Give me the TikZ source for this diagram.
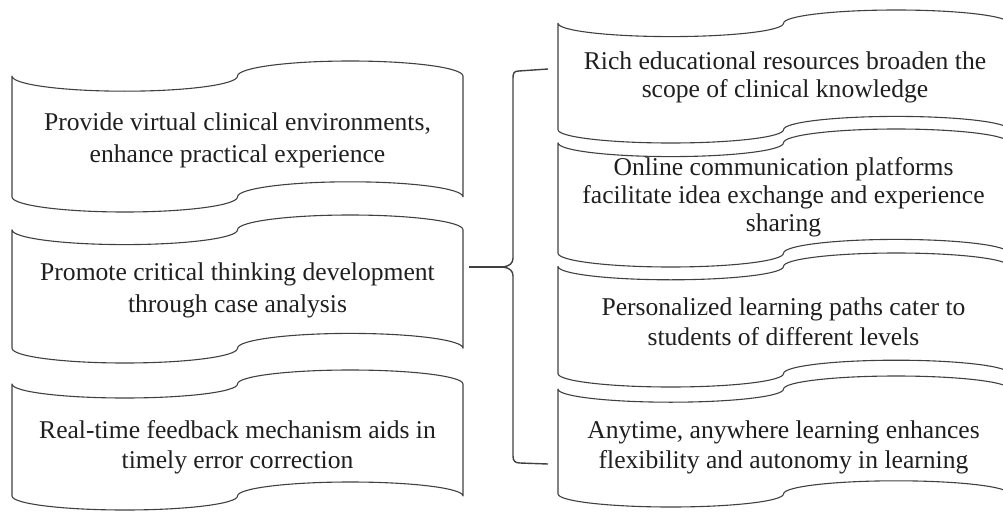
\documentclass[tikz,border=0pt]{standalone}
\usepackage{fontspec}
\setmainfont{Liberation Serif}
\newcommand{\tapebox}[4]{%
 \pgfmathsetmacro\tpX{#1}\pgfmathsetmacro\tpY{#2}\pgfmathsetmacro\tpW{#3}\pgfmathsetmacro\tpH{#4}%
 \pgfmathsetmacro\tpA{\tpH/10}\pgfmathsetmacro\tpQ{\tpW/4}%
 \pgfmathsetmacro\tpKA{0.5523*\tpA}\pgfmathsetmacro\tpKQ{0.5523*\tpQ}%
 \pgfmathsetmacro\xa{\tpX}\pgfmathsetmacro\xb{\tpX+\tpQ}\pgfmathsetmacro\xc{\tpX+2*\tpQ}%
 \pgfmathsetmacro\xd{\tpX+3*\tpQ}\pgfmathsetmacro\xe{\tpX+\tpW}%
 \pgfmathsetmacro\ya{\tpY}\pgfmathsetmacro\yb{\tpY+\tpA}\pgfmathsetmacro\yc{\tpY+2*\tpA}%
 \pgfmathsetmacro\yd{\tpY+\tpH-2*\tpA}\pgfmathsetmacro\ye{\tpY+\tpH-\tpA}\pgfmathsetmacro\yf{\tpY+\tpH}%
 \draw[tapeline] (\xa,\yb) .. controls (\xa,{\yb+\tpKA}) and ({\xb-\tpKQ},\yc) .. (\xb,\yc)
   .. controls ({\xb+\tpKQ},\yc) and (\xc,{\yb+\tpKA}) .. (\xc,\yb)
   .. controls (\xc,{\yb-\tpKA}) and ({\xd-\tpKQ},\ya) .. (\xd,\ya)
   .. controls ({\xd+\tpKQ},\ya) and (\xe,{\yb-\tpKA}) .. (\xe,\yb)
   -- (\xe,\ye)
   .. controls (\xe,{\ye-\tpKA}) and ({\xd+\tpKQ},\yd) .. (\xd,\yd)
   .. controls ({\xd-\tpKQ},\yd) and (\xc,{\ye-\tpKA}) .. (\xc,\ye)
   .. controls (\xc,{\ye+\tpKA}) and ({\xb+\tpKQ},\yf) .. (\xb,\yf)
   .. controls ({\xb-\tpKQ},\yf) and (\xa,{\ye+\tpKA}) .. (\xa,\ye)
   -- cycle;%
}
\begin{document}
\begin{tikzpicture}[x=1pt,y=-1pt,
  tapeline/.style={line width=1.1pt, draw=black!75, line join=round},
  txt/.style={align=center, inner sep=0pt, text=black!88, font=\fontsize{25.6}{32}\selectfont},
  rtxt/.style={txt, font=\fontsize{25.6}{28}\selectfont},
  mtxt/.style={txt, font=\fontsize{25.6}{30}\selectfont},
  bracestyle/.style={line width=1.4pt, draw=black!75, line join=round}]
\useasboundingbox (0,0) rectangle (1003,511);
\clip (0,0) rectangle (1003,511);
% left column
\tapebox{12}{61}{451}{151}
\tapebox{12}{215}{451}{148}
\tapebox{12}{370}{451}{140}
% right column
\tapebox{558}{10}{451}{133}
\tapebox{558}{129}{451}{138}
\tapebox{558}{253}{451}{134}
\tapebox{558}{376}{451}{131}
% texts
\node[txt] (L1) at (237.5,140.5) {Provide virtual clinical environments,\\enhance practical experience};
\node[txt] (L2) at (237.5,290.5) {Promote critical thinking development\\through case analysis};
\node[mtxt] (L3) at (237.5,447) {Real-time feedback mechanism aids in\\timely error correction};
\node[rtxt] (R1) at (785,77.5) {Rich educational resources broaden the\\scope of clinical knowledge};
\node[rtxt] (R2) at (783.5,197.5) {Online communication platforms\\facilitate idea exchange and experience\\sharing};
\node[mtxt] (R3) at (783.5,322) {Personalized learning paths cater to\\students of different levels};
\node[mtxt] (R4) at (783.5,447) {Anytime, anywhere learning enhances\\flexibility and autonomy in learning};
% brace and connector
\coordinate (cstart) at (469,267);
\coordinate (tip) at (503,267);
\coordinate (btop) at (548,69);
\coordinate (bbot) at (548,464);
\draw[bracestyle] (cstart) -- (tip);
\draw[bracestyle] (btop) -- (519,71) .. controls (514,71) and (513,73) .. (513,78)
  -- (513,258) .. controls (513,263) and (510,266) .. (tip)
  .. controls (510,268) and (513,271) .. (513,276)
  -- (513,456) .. controls (513,461) and (515,463) .. (520,463) -- (bbot);
\end{tikzpicture}
\end{document}
